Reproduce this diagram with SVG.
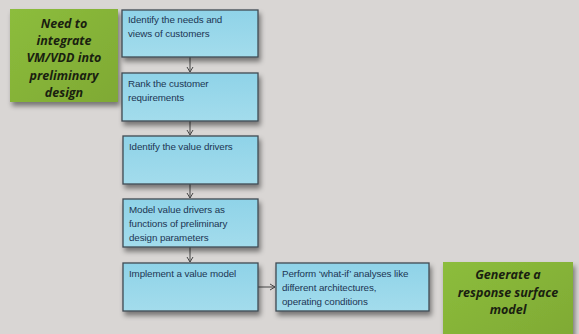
<svg xmlns="http://www.w3.org/2000/svg" width="579" height="334" viewBox="0 0 579 334">
<style>
.blue{fill:url(#bg);stroke:#3f4a52;stroke-width:1.3;filter:url(#sh)}
.green{fill:url(#gg);filter:url(#sh)}
.t{font-family:"Liberation Sans",Arial,sans-serif;font-size:9.8px;fill:#1c3553;letter-spacing:-0.1px}
.g{font-family:"Open Sans","Liberation Sans",sans-serif;font-size:12.5px;font-weight:bold;font-style:italic;fill:#1a1f10;text-anchor:middle}
.c{stroke:#454545;stroke-width:1;fill:none;marker-end:url(#ah)}
</style>
<defs>
<linearGradient id="bg" x1="0" y1="0" x2="0" y2="1">
<stop offset="0" stop-color="#8fd3e8"/><stop offset="1" stop-color="#a3dcec"/>
</linearGradient>
<linearGradient id="gg" x1="0" y1="0" x2="1" y2="1">
<stop offset="0" stop-color="#8cbd3c"/><stop offset="1" stop-color="#7fa934"/>
</linearGradient>
<filter id="sh" x="-20%" y="-20%" width="150%" height="160%">
<feDropShadow dx="2" dy="4" stdDeviation="2.5" flood-color="#000" flood-opacity="0.45"/>
</filter>
<marker id="ah" markerWidth="8" markerHeight="8" refX="6" refY="4" orient="auto" markerUnits="userSpaceOnUse">
<path d="M1,1 L6,4 L1,7" fill="none" stroke="#454545" stroke-width="1"/>
</marker>
</defs>
<rect width="579" height="334" fill="#d9d6d4"/>
<g id="connectors">
<line class="c" x1="190" y1="57" x2="190" y2="72"/>
<line class="c" x1="190" y1="121" x2="190" y2="135"/>
<line class="c" x1="190" y1="184" x2="190" y2="198"/>
<line class="c" x1="190" y1="247" x2="190" y2="262"/>
<line class="c" x1="258" y1="287" x2="275" y2="287"/>
</g>
<g id="need">
<rect class="green" x="10" y="9" width="108" height="93"/>
<text class="g" x="64" y="28">Need to</text>
<text class="g" x="64" y="45">integrate</text>
<text class="g" x="64" y="62">VM/VDD into</text>
<text class="g" x="64" y="80">preliminary</text>
<text class="g" x="64" y="97">design</text>
</g>
<g id="n1">
<rect class="blue" x="122" y="10" width="136" height="47"/>
<text class="t" x="128" y="23">Identify the needs and</text>
<text class="t" x="128" y="37">views of customers</text>
</g>
<g id="n2">
<rect class="blue" x="122" y="73" width="136" height="48"/>
<text class="t" x="128" y="87">Rank the customer</text>
<text class="t" x="128" y="101">requirements</text>
</g>
<g id="n3">
<rect class="blue" x="123" y="136" width="135" height="48"/>
<text class="t" x="129" y="150">Identify the value drivers</text>
</g>
<g id="n4">
<rect class="blue" x="123" y="199" width="135" height="48"/>
<text class="t" x="129" y="213">Model value drivers as</text>
<text class="t" x="129" y="227">functions of preliminary</text>
<text class="t" x="129" y="241">design parameters</text>
</g>
<g id="n5">
<rect class="blue" x="123" y="263" width="135" height="48"/>
<text class="t" x="129" y="277">Implement a value model</text>
</g>
<g id="n6">
<rect class="blue" x="276" y="263" width="153" height="48"/>
<text class="t" x="282" y="277">Perform ‘what-if’ analyses like</text>
<text class="t" x="282" y="291">different architectures,</text>
<text class="t" x="282" y="305">operating conditions</text>
</g>
<g id="gen">
<rect class="green" x="443" y="262" width="130" height="80"/>
<text class="g" x="508" y="279">Generate a</text>
<text class="g" x="508" y="297">response surface</text>
<text class="g" x="508" y="314">model</text>
</g>
</svg>
